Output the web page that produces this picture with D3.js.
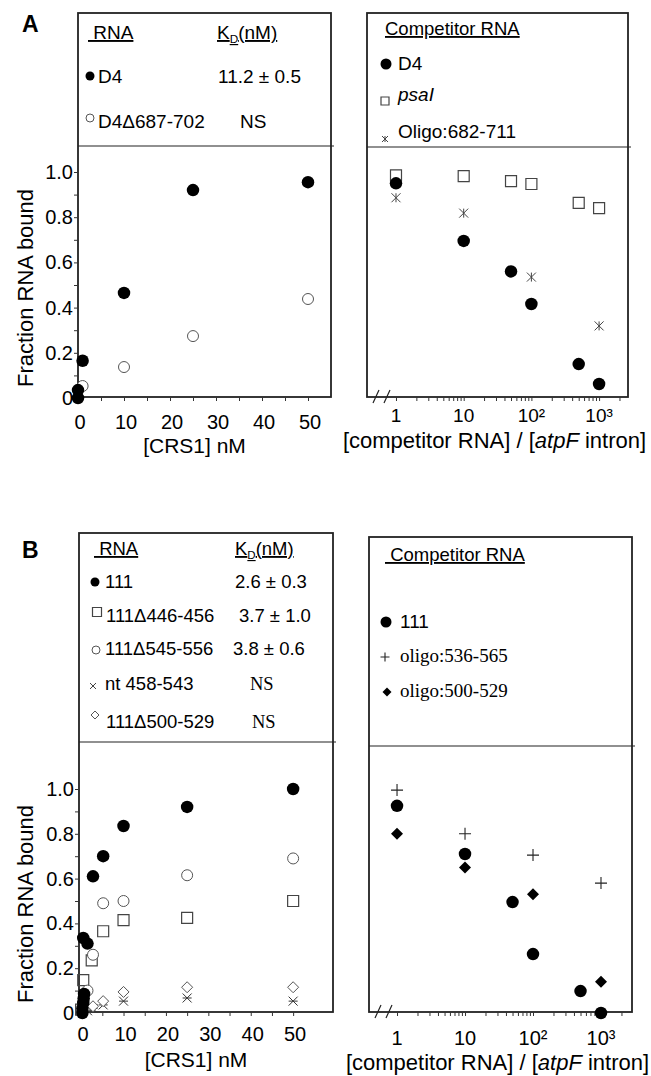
<!DOCTYPE html>
<html lang="en">
<head>
<meta charset="UTF-8">
<title>CRS1 binding</title>
<script src="https://cdnjs.cloudflare.com/ajax/libs/d3/7.8.5/d3.min.js"></script>
<style>
    body { margin: 0; background: #fff; }
    svg text { font-family: "Liberation Sans", Arial, sans-serif; fill: #000; }
    svg text.serif { font-family: "Liberation Serif", "Times New Roman", serif; }
    .frame { fill: none; stroke: #222; stroke-width: 1.8; }
    .divider { stroke: #222; stroke-width: 1.2; }
    .tick line { stroke: #333; stroke-width: 1; }
    .uline { text-decoration: underline; white-space: pre; }
</style>
</head>
<body>
<svg id="fig" width="651" height="1076"></svg>
<script>
    // ---- panel A: binding curves ----
    var aD4Conc = [0, 0, 1, 10, 25, 50];
    var aD4Bound = [0.0, 0.035, 0.165, 0.465, 0.92, 0.955];
    var aDelConc = [1, 10, 25, 50];
    var aDelBound = [0.053, 0.137, 0.274, 0.438];

    // ---- panel A: competition ----
    var aRatio = [1, 10, 50, 100, 500, 1000];
    var aCompD4 = [0.95, 0.695, 0.56, 0.416, 0.15, 0.062];
    var aCompPsai = [0.985, 0.982, 0.96, 0.947, 0.863, 0.84];
    var aOligoRatio = [1, 10, 100, 1000];
    var aCompOligo = [0.886, 0.818, 0.535, 0.319];

    // ---- panel B: binding curves ----
    var b111Conc = [0.3, 0.3, 0.5, 0.6, 0.7, 0.5, 1.5, 2.8, 5.2, 10, 25, 50];
    var b111Bound = [0.0, 0.02, 0.045, 0.065, 0.085, 0.335, 0.31, 0.61, 0.70, 0.835, 0.92, 1.0];
    var bD446Conc = [0, 0.5, 2.5, 5.2, 10, 25, 50];
    var bD446Bound = [0.015, 0.147, 0.235, 0.365, 0.415, 0.425, 0.50];
    var bD545Conc = [1.5, 2.8, 5.2, 10, 25, 50];
    var bD545Bound = [0.10, 0.26, 0.49, 0.50, 0.615, 0.69];
    var bNtConc = [1.5, 2.8, 5.2, 10, 25, 50];
    var bNtBound = [0.01, 0.02, 0.036, 0.053, 0.067, 0.053];
    var bD500Conc = [1, 2.8, 5.2, 10, 25, 50];
    var bD500Bound = [0.02, 0.03, 0.053, 0.094, 0.115, 0.115];

    // ---- panel B: competition ----
    var bRatio = [1, 10, 50, 100, 500, 1000];
    var bComp111 = [0.925, 0.71, 0.495, 0.263, 0.098, 0.0];
    var bOligoRatio = [1, 10, 100, 1000];
    var bComp536 = [0.995, 0.80, 0.705, 0.58];
    var bComp500 = [0.80, 0.65, 0.53, 0.14];

    // ---- ticks ----
    var linTicks = [0, 10, 20, 30, 40, 50];
    var linMinor = [5, 10, 15, 20, 25, 30, 35, 40, 45, 50];
    var yTicks = [0, 0.2, 0.4, 0.6, 0.8, 1.0];
    var yMinor = [0.1, 0.2, 0.3, 0.4, 0.5, 0.6, 0.7, 0.8, 0.9, 1.0];
    var logTicks = [1, 10, 100, 1000];
    var logLabels = ['1', '10', '10\u00b2', '10\u00b3'];

    var svg = d3.select('#fig');

    function markPath(type, s) {
        var h = s / 2;
        var cross = 'M' + (-h) + ',' + (-h) + 'L' + h + ',' + h + 'M' + (-h) + ',' + h + 'L' + h + ',' + (-h);
        if (type == 'circle') return d3.symbol(d3.symbolCircle, Math.PI * h * h)();
        if (type == 'square') return 'M' + (-h) + ',' + (-h) + 'h' + s + 'v' + s + 'h' + (-s) + 'Z';
        if (type == 'diamond') return 'M0,' + (-h) + 'L' + h + ',0L0,' + h + 'L' + (-h) + ',0Z';
        if (type == 'plus') return 'M' + (-h) + ',0H' + h + 'M0,' + (-h) + 'V' + h;
        if (type == 'cross') return cross;
        if (type == 'asterisk') return cross + 'M0,' + (-h) + 'V' + h;
        if (type == 'crossbar') return cross + 'M' + (-h) + ',0H' + h;
    }

    var styles = {
        dot: { type: 'circle', size: 12.5, fill: '#000', stroke: 'none', sw: 0 },
        ring: { type: 'circle', size: 11, fill: '#fff', stroke: '#555', sw: 1 },
        box: { type: 'square', size: 11, fill: 'none', stroke: '#444', sw: 1.2 },
        star: { type: 'asterisk', size: 9, fill: 'none', stroke: '#444', sw: 1 },
        bar: { type: 'crossbar', size: 9, fill: 'none', stroke: '#333', sw: 1 },
        dia: { type: 'diamond', size: 11, fill: '#fff', stroke: '#555', sw: 1 },
        solidDia: { type: 'diamond', size: 12, fill: '#000', stroke: 'none', sw: 0 },
        plus: { type: 'plus', size: 12, fill: 'none', stroke: '#222', sw: 1.1 }
    };

    function plotSeries(x, y, xs, ys, st) {
        svg.append('g').selectAll('path')
            .data(xs.map(function(v, i) { return [v, ys[i]]; }))
            .enter()
            .append('path')
            .attr('transform', function(d) { return 'translate(' + x(d[0]) + ',' + y(d[1]) + ')'; })
            .attr('d', markPath(st.type, st.size))
            .attr('fill', st.fill)
            .attr('stroke', st.stroke)
            .attr('stroke-width', st.sw);
    }

    function legendMark(cx, cy, st, s) {
        svg.append('path')
            .attr('transform', 'translate(' + cx + ',' + cy + ')')
            .attr('d', markPath(st.type, s))
            .attr('fill', st.fill)
            .attr('stroke', st.stroke)
            .attr('stroke-width', st.sw);
    }

    function label(x, y, txt, size, cls) {
        return svg.append('text')
            .attr('x', x).attr('y', y)
            .attr('font-size', size)
            .attr('class', cls || null)
            .text(txt);
    }

    function kdHeader(x, y, size) {
        var t = svg.append('text').attr('x', x).attr('y', y).attr('font-size', size)
            .attr('class', 'uline');
        t.append('tspan').text('K');
        t.append('tspan').attr('font-size', size * 0.62).attr('dy', 4).text('D');
        t.append('tspan').attr('dy', -4).text('(nM)');
    }

    function frame(f) {
        svg.append('rect')
            .attr('class', 'frame')
            .attr('x', f.x0).attr('y', f.top)
            .attr('width', f.x1 - f.x0).attr('height', f.bottom - f.top);
        svg.append('line')
            .attr('class', 'divider')
            .attr('x1', f.x0).attr('x2', f.x1 + 3)
            .attr('y1', f.div).attr('y2', f.div);
    }

    function bindingAxes(f, x, y, tickBase, titleBase) {
        svg.append('g')
            .attr('transform', 'translate(0,' + f.bottom + ')')
            .call(d3.axisBottom(x).tickValues(linMinor).tickSize(4).tickFormat(''))
            .select('.domain').remove();
        svg.append('g')
            .attr('transform', 'translate(' + f.x0 + ',0)')
            .call(d3.axisLeft(y).tickValues(yMinor).tickSize(4).tickFormat(''))
            .select('.domain').remove();

        svg.append('g').selectAll('text')
            .data(linTicks).enter().append('text')
            .attr('x', function(d) { return x(d) + 2; })
            .attr('y', tickBase)
            .attr('text-anchor', 'middle')
            .attr('font-size', 20)
            .text(function(d) { return d; });

        svg.append('g').selectAll('text')
            .data(yTicks).enter().append('text')
            .attr('x', f.x0 - 5)
            .attr('y', function(d) { return y(d) + 7; })
            .attr('text-anchor', 'end')
            .attr('font-size', 20)
            .text(function(d) { return d == 0 ? '0' : d3.format('.1f')(d); });

        label((f.x0 + f.x1) / 2 - 10, titleBase, '[CRS1] nM', 21).attr('text-anchor', 'middle');
        svg.append('text')
            .attr('transform', 'translate(33,' + (y(0.5) + 3) + ') rotate(-90)')
            .attr('text-anchor', 'middle')
            .attr('font-size', 22)
            .text('Fraction RNA bound');
    }

    function competitionAxes(f, x, tickBase, titleBase, tickSize) {
        var minor = x.ticks().filter(function(v) { return v >= 1; });
        svg.append('g')
            .attr('transform', 'translate(0,' + f.bottom + ')')
            .call(d3.axisBottom(x).tickValues(minor).tickSize(4).tickFormat(''))
            .select('.domain').remove();

        svg.append('g').selectAll('text')
            .data(logTicks).enter().append('text')
            .attr('x', function(d) { return x(d); })
            .attr('y', tickBase)
            .attr('text-anchor', 'middle')
            .attr('font-size', tickSize)
            .text(function(d, i) { return logLabels[i]; });

        // axis break
        svg.append('path')
            .attr('d', 'M' + (f.x0 + 6) + ',' + (f.bottom + 6) + 'l6,-13m5,13l6,-13')
            .attr('stroke', '#222').attr('stroke-width', 1.2).attr('fill', 'none');

        var t = svg.append('text')
            .attr('x', (f.x0 + f.x1) / 2 - 3)
            .attr('y', titleBase)
            .attr('text-anchor', 'middle')
            .attr('font-size', 22);
        t.append('tspan').text('[competitor RNA] / [');
        t.append('tspan').attr('font-style', 'italic').text('atpF');
        t.append('tspan').text(' intron]');
    }

    // ================= panel A =================
    var fAL = { x0: 78, x1: 331, top: 13, div: 146, bottom: 397 };
    var fAR = { x0: 367, x1: 628, top: 13, div: 147, bottom: 397 };

    var xAL = d3.scaleLinear().domain([0, 55]).range([fAL.x0, fAL.x1]);
    var yA = d3.scaleLinear().domain([0, 1]).range([398, 172]);
    var xAR = d3.scaleLog().domain([0.373, 2673]).range([fAR.x0, fAR.x1]);

    frame(fAL);
    frame(fAR);
    bindingAxes(fAL, xAL, yA, 429, 453);
    competitionAxes(fAR, xAR, 422, 448, 19);

    plotSeries(xAL, yA, aDelConc, aDelBound, styles.ring);
    plotSeries(xAL, yA, aD4Conc, aD4Bound, styles.dot);

    plotSeries(xAR, yA, aRatio, aCompPsai, styles.box);
    plotSeries(xAR, yA, aOligoRatio, aCompOligo, styles.star);
    plotSeries(xAR, yA, aRatio, aCompD4, styles.dot);

    svg.append('text').attr('x', 22).attr('y', 32).attr('font-size', 23)
        .attr('font-weight', 'bold').text('A');

    label(88, 39, ' RNA', 19, 'uline');
    kdHeader(217, 39, 19);
    legendMark(90, 76, styles.dot, 9);
    label(98, 83, 'D4', 19);
    label(218, 83, '11.2 \u00b1 0.5', 19);
    legendMark(90, 118, styles.ring, 8);
    label(98, 128, 'D4\u0394687-702', 19);
    label(240, 128, 'NS', 19);

    label(385, 35, 'Competitor RNA', 18.5, 'uline');
    legendMark(386, 64, styles.dot, 11);
    label(398, 70, 'D4', 19);
    legendMark(385, 101, styles.box, 8);
    label(398, 101, 'psaI', 19).attr('font-style', 'italic');
    legendMark(385, 139, styles.star, 6);
    label(398, 138, 'Oligo:682-711', 19);

    // ================= panel B =================
    var fBL = { x0: 79, x1: 333, top: 533, div: 742, bottom: 1012 };
    var fBR = { x0: 369, x1: 632, top: 537, div: 746, bottom: 1012 };

    var xBL = d3.scaleLinear().domain([-0.5, 59.4]).range([fBL.x0, fBL.x1]);
    var yB = d3.scaleLinear().domain([0, 1]).range([1013, 789]);
    var xBR = d3.scaleLog().domain([0.387, 2858]).range([fBR.x0, fBR.x1]);

    frame(fBL);
    frame(fBR);
    bindingAxes(fBL, xBL, yB, 1041, 1067);
    competitionAxes(fBR, xBR, 1045, 1070, 20);

    plotSeries(xBL, yB, bNtConc, bNtBound, styles.bar);
    plotSeries(xBL, yB, bD500Conc, bD500Bound, styles.dia);
    plotSeries(xBL, yB, bD446Conc, bD446Bound, styles.box);
    plotSeries(xBL, yB, bD545Conc, bD545Bound, styles.ring);
    plotSeries(xBL, yB, b111Conc, b111Bound, styles.dot);

    plotSeries(xBR, yB, bOligoRatio, bComp536, styles.plus);
    plotSeries(xBR, yB, bOligoRatio, bComp500, styles.solidDia);
    plotSeries(xBR, yB, bRatio, bComp111, styles.dot);

    svg.append('text').attr('x', 22).attr('y', 558).attr('font-size', 23)
        .attr('font-weight', 'bold').text('B');

    label(94, 555, ' RNA', 18.5, 'uline');
    kdHeader(235, 555, 18.5);
    legendMark(95, 582, styles.dot, 9);
    label(105, 588, '111', 18.5);
    label(235, 588, '2.6 \u00b1 0.3', 18.5);
    legendMark(97, 612, styles.box, 9);
    label(106, 622, '111\u0394446-456', 18.5);
    label(239, 622, '3.7 \u00b1 1.0', 18.5);
    legendMark(96, 650, styles.ring, 8);
    label(105, 655, '111\u0394545-556', 18.5);
    label(233, 655, '3.8 \u00b1 0.6', 18.5);
    legendMark(93, 686, { type: 'cross', fill: 'none', stroke: '#444', sw: 1 }, 6);
    label(105, 690, 'nt 458-543', 18.5);
    label(250, 690, 'NS', 18.5, 'serif');
    legendMark(95, 715, styles.dia, 8);
    label(106, 728, '111\u0394500-529', 18.5);
    label(252, 728, 'NS', 18.5, 'serif');

    label(385, 561, ' Competitor RNA', 18.5, 'uline');
    legendMark(386, 622, styles.dot, 11);
    label(400, 628, '111', 19);
    legendMark(385, 657, styles.plus, 9);
    label(400, 662, 'oligo:536-565', 19, 'serif');
    legendMark(387, 692, styles.solidDia, 9);
    label(400, 697, 'oligo:500-529', 19, 'serif');
</script>
</body>
</html>
